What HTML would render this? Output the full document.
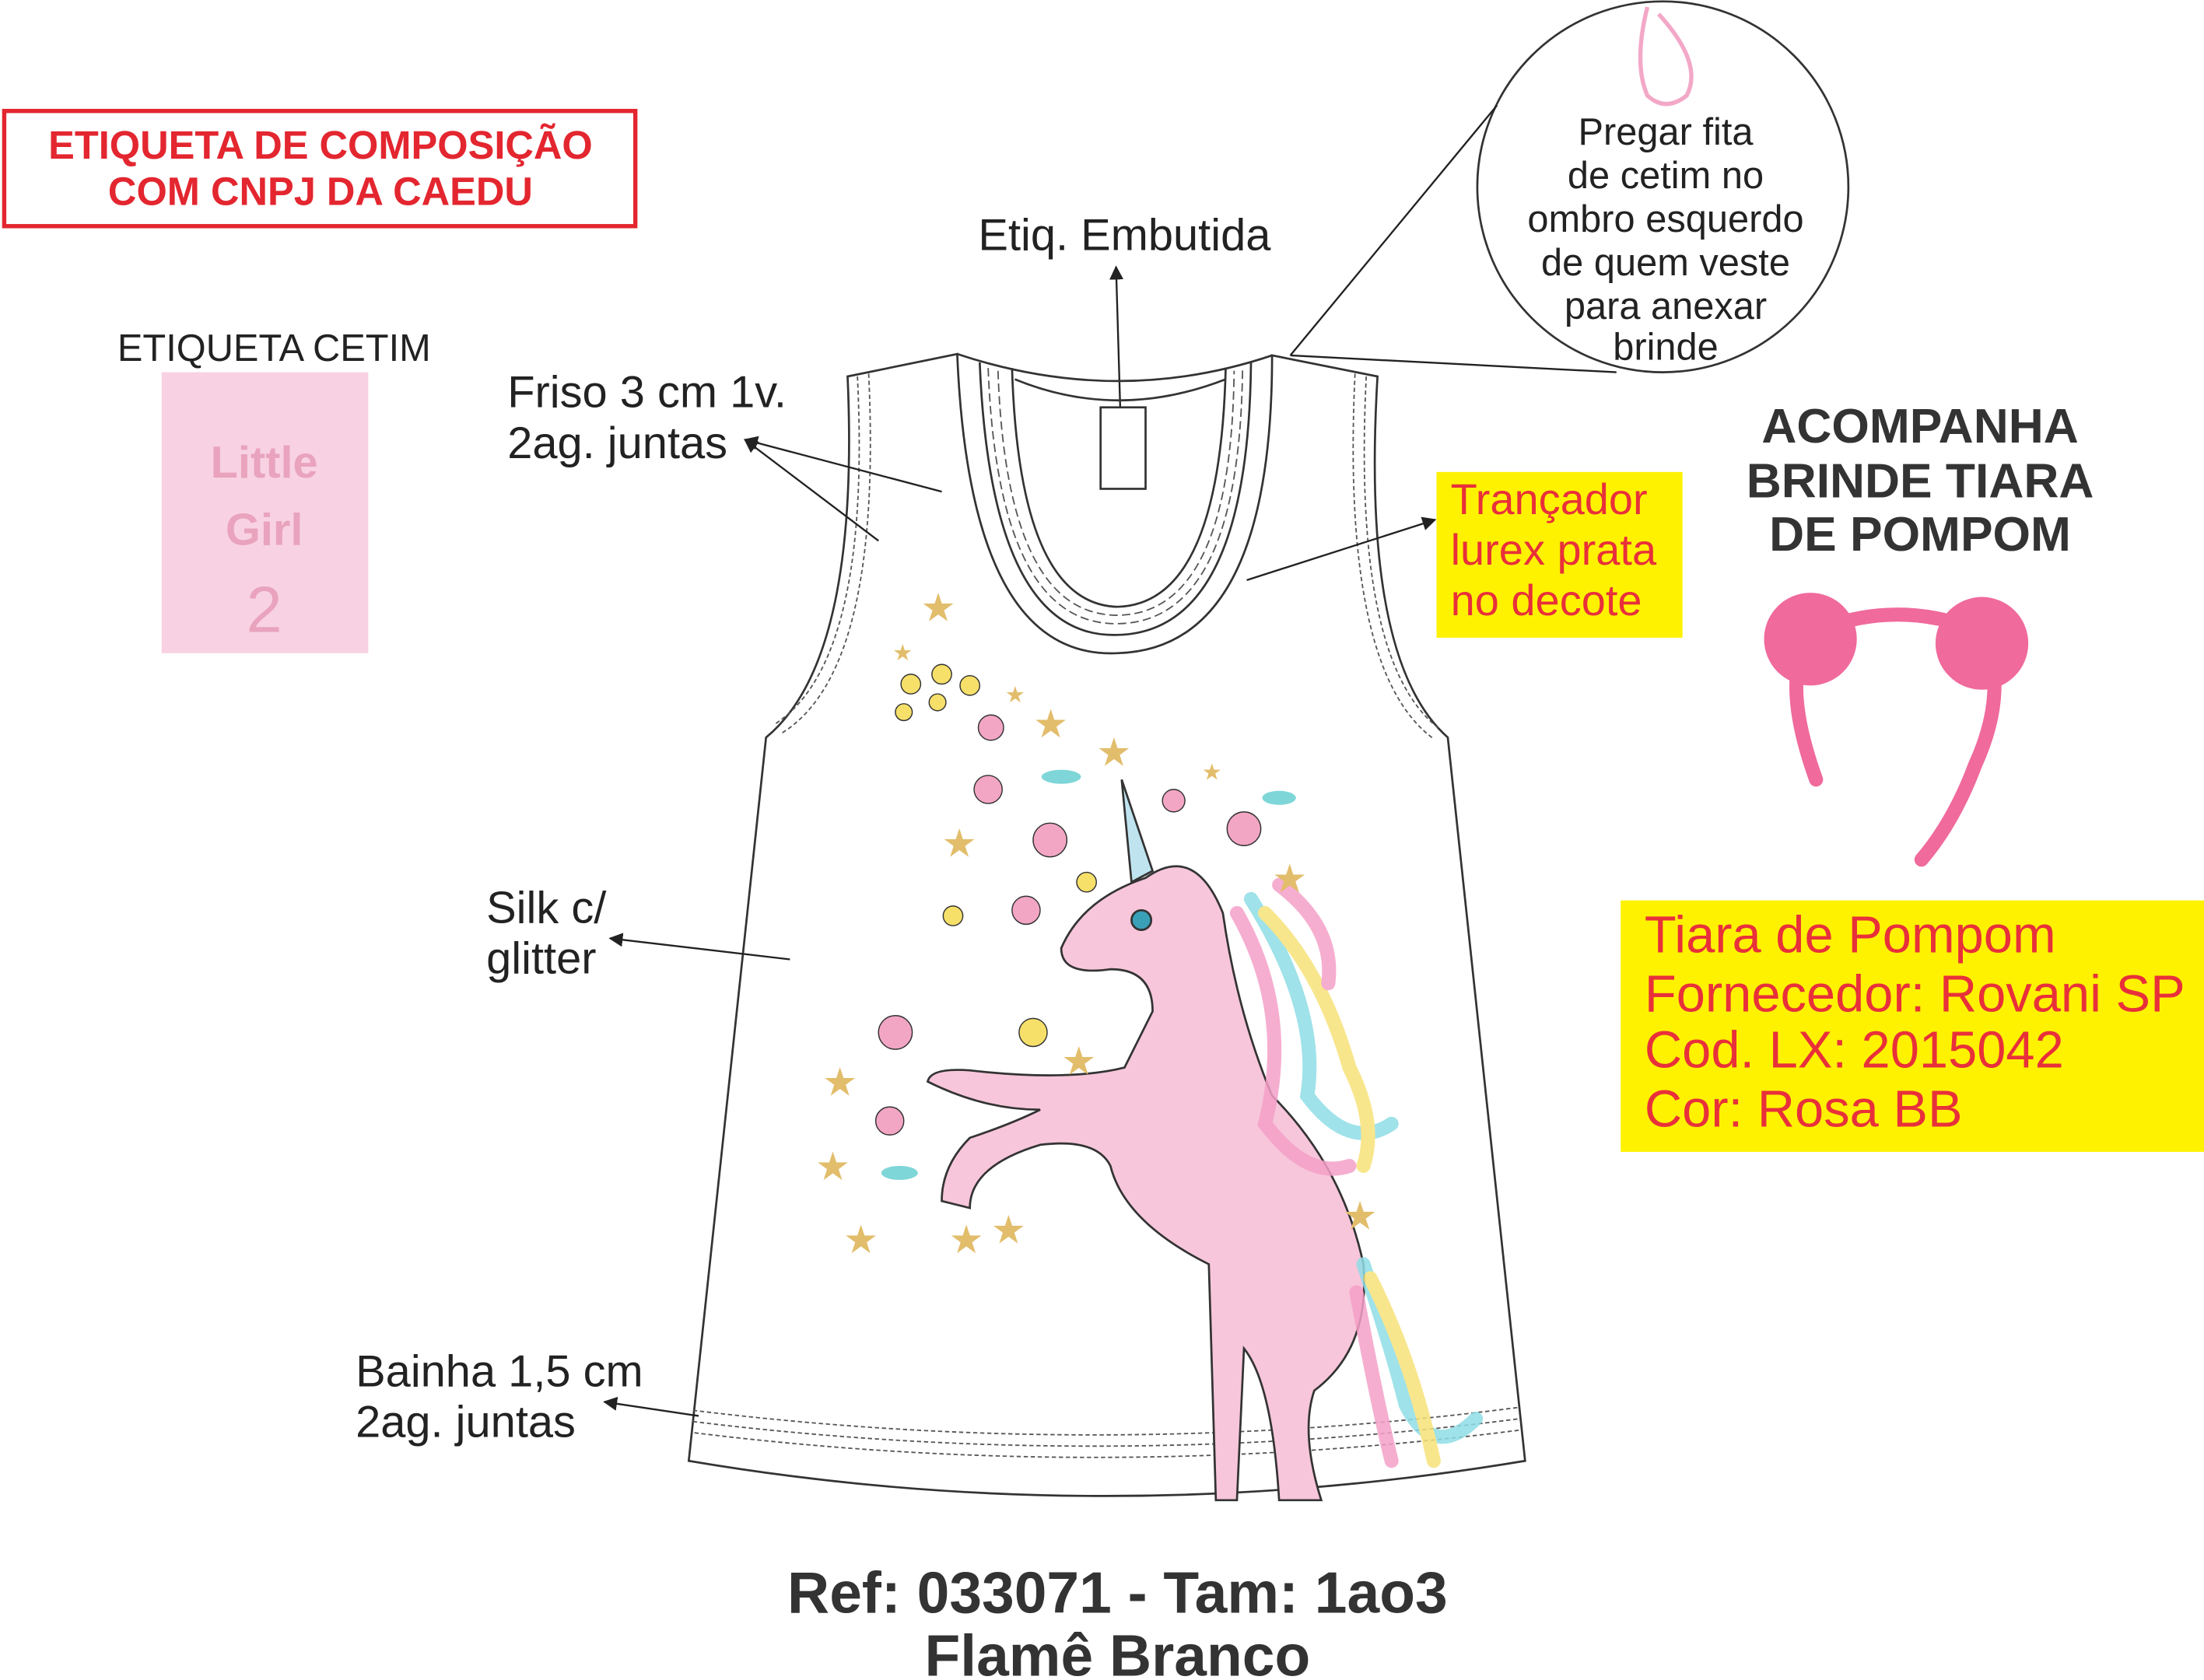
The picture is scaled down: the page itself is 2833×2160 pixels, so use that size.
<!DOCTYPE html>
<html><head><meta charset="utf-8"><style>
html,body{margin:0;padding:0;background:#fff;}
svg{display:block;}
text{font-family:"Liberation Sans",sans-serif;}
</style></head><body>
<svg width="2833" height="2160" viewBox="0 0 1568 1196" preserveAspectRatio="none" xmlns="http://www.w3.org/2000/svg">
<defs>
<marker id="ah" markerWidth="10" markerHeight="10" refX="9" refY="5" orient="auto" markerUnits="userSpaceOnUse"><path d="M0,0 L10,5 L0,10 z" fill="#222"/></marker>
</defs>
<rect width="1568" height="1196" fill="#fff"/>
<rect x="3" y="79" width="449" height="82" fill="none" stroke="#e3262f" stroke-width="3"/>
<text x="228" y="113" font-size="28" font-weight="bold" fill="#e3262f" text-anchor="middle">ETIQUETA DE COMPOSIÇÃO</text>
<text x="228" y="146" font-size="28" font-weight="bold" fill="#e3262f" text-anchor="middle">COM CNPJ DA CAEDU</text>
<text x="195" y="257" font-size="27" fill="#222" text-anchor="middle">ETIQUETA CETIM</text>
<rect x="115" y="265" width="147" height="200" fill="#f8d2e2"/>
<text x="188" y="340" font-size="32" fill="#e9a3bd" text-anchor="middle" font-weight="bold">Little</text>
<text x="188" y="388" font-size="32" fill="#e9a3bd" text-anchor="middle" font-weight="bold">Girl</text>
<text x="188" y="450" font-size="46" fill="#e9a3bd" text-anchor="middle">2</text>
<circle cx="1183" cy="133" r="132" fill="#fff" stroke="#333" stroke-width="1.5"/>
<path d="M1172,5 Q1162,45 1172,68 Q1185,80 1200,68 Q1212,45 1180,10" fill="none" stroke="#f3a8c8" stroke-width="3"/>
<g font-size="27" fill="#222" text-anchor="middle">
<text x="1185" y="103">Pregar fita</text>
<text x="1185" y="134">de cetim no</text>
<text x="1185" y="165">ombro esquerdo</text>
<text x="1185" y="196">de quem veste</text>
<text x="1185" y="227">para anexar</text>
<text x="1185" y="256">brinde</text>
</g>
<line x1="1065" y1="75" x2="918" y2="253" stroke="#222" stroke-width="1.3"/>
<line x1="918" y1="253" x2="1150" y2="265" stroke="#222" stroke-width="1.3"/>
<text x="800" y="178" font-size="32" fill="#222" text-anchor="middle">Etiq. Embutida</text>
<line x1="797" y1="292" x2="794" y2="190" stroke="#222" stroke-width="1.3" marker-end="url(#ah)"/>
<g fill="none" stroke="#333" stroke-width="1.5">
<path d="M603,268 L681,252 Q690,470 795,465 Q905,462 905,253 L980,268 Q968,470 1030,525 L1085,1040 Q785,1090 490,1040 L545,525 Q612,470 603,268 z" fill="#fff"/>
<path d="M697,258 Q705,455 795,452 Q888,450 890,258"/>
<path d="M720,262 Q725,430 795,432 Q868,430 872,262"/>
<path d="M722,270 Q795,300 872,270"/>
<path d="M681,252 Q795,290 905,253"/>
<rect x="783" y="290" width="32" height="58" fill="#fff"/>
</g>
<g fill="none" stroke="#555" stroke-width="1" stroke-dasharray="3,2">
<path d="M610,268 Q620,470 552,515"/>
<path d="M618,266 Q628,478 556,522"/>
<path d="M972,268 Q962,470 1023,518"/>
<path d="M964,266 Q954,478 1020,526"/>
<path d="M493,1004 Q785,1040 1080,1002"/>
<path d="M493,1012 Q785,1048 1081,1010"/>
<path d="M494,1020 Q785,1056 1082,1018"/>
<path d="M703,262 Q710,445 795,444 Q882,443 884,262" stroke-dasharray="6,3"/>
<path d="M710,264 Q716,438 795,438 Q876,437 878,264" stroke-dasharray="6,3"/>
</g>
<g stroke="#333" stroke-width="1.5">
<path d="M870,650 Q850,600 815,625 Q770,640 755,675 Q755,695 790,690 Q820,690 820,720 L800,760 Q760,770 690,762 Q662,760 660,770 Q700,790 740,790 Q720,800 690,810 Q670,830 670,855 L690,860 Q690,830 740,815 Q780,810 790,830 Q800,870 860,900 L865,1068 L880,1068 L885,960 Q905,985 910,1068 L940,1068 Q925,1020 935,990 Q975,960 970,900 Q955,830 905,780 Q880,720 870,650 z" fill="#f7c6da"/>
<path d="M805,628 L798,555 L820,620 z" fill="#bfe4f0"/>
<circle cx="812" cy="655" r="7" fill="#39a0b8"/>
</g>
<g fill="none" stroke-width="10" stroke-linecap="round" opacity="0.85">
<path d="M880,650 Q920,720 900,800 Q930,840 960,830" stroke="#f5a0c8"/>
<path d="M890,640 Q940,720 930,780 Q960,820 990,800" stroke="#8fdde6"/>
<path d="M900,650 Q940,690 960,760 Q980,800 970,830" stroke="#f7e27a"/>
<path d="M910,630 Q950,660 945,700" stroke="#f5a0c8"/>
<path d="M970,900 Q990,960 1000,1000 Q1020,1040 1050,1010" stroke="#8fdde6"/>
<path d="M975,910 Q1005,970 1020,1040" stroke="#f7e27a"/>
<path d="M965,920 Q980,1000 990,1040" stroke="#f5a0c8"/>
</g>
<g fill="#e2bd6b" font-size="28">
<text x="655" y="442">★</text><text x="670" y="610">★</text><text x="780" y="545">★</text><text x="735" y="525">★</text>
<text x="585" y="780">★</text><text x="580" y="840">★</text><text x="600" y="892">★</text><text x="675" y="892">★</text>
<text x="705" y="885">★</text><text x="755" y="765">★</text><text x="955" y="875">★</text><text x="905" y="635">★</text>
<text x="855" y="555" font-size="16">★</text><text x="715" y="500" font-size="16">★</text><text x="635" y="470" font-size="16">★</text>
</g>
<g fill="#f3a6c4" stroke="#333" stroke-width="0.8">
<circle cx="705" cy="518" r="9"/><circle cx="703" cy="562" r="10"/><circle cx="747" cy="598" r="12"/><circle cx="730" cy="648" r="10"/>
<circle cx="637" cy="735" r="12"/><circle cx="633" cy="798" r="10"/><circle cx="885" cy="590" r="12"/><circle cx="835" cy="570" r="8"/>
</g>
<g fill="#f6e06a" stroke="#333" stroke-width="0.8">
<circle cx="648" cy="487" r="7"/><circle cx="670" cy="480" r="7"/><circle cx="690" cy="488" r="7"/><circle cx="643" cy="507" r="6"/>
<circle cx="667" cy="500" r="6"/><circle cx="678" cy="652" r="7"/><circle cx="773" cy="628" r="7"/><circle cx="735" cy="735" r="10"/>
</g>
<g fill="#7fd6d8"><ellipse cx="755" cy="553" rx="14" ry="5"/><ellipse cx="910" cy="568" rx="12" ry="5"/><ellipse cx="640" cy="835" rx="13" ry="5"/></g>
<g font-size="32" fill="#222">
<text x="361" y="290">Friso 3 cm 1v.</text><text x="361" y="326">2ag. juntas</text>
<text x="346" y="657">Silk c/</text><text x="346" y="693">glitter</text>
<text x="253" y="987">Bainha 1,5 cm</text><text x="253" y="1023">2ag. juntas</text>
</g>
<g stroke="#222" stroke-width="1.3" marker-end="url(#ah)">
<line x1="625" y1="385" x2="530" y2="313"/>
<line x1="670" y1="350" x2="530" y2="313"/>
<line x1="562" y1="683" x2="434" y2="668"/>
<line x1="497" y1="1008" x2="430" y2="998"/>
<line x1="887" y1="413" x2="1021" y2="370"/>
</g>
<rect x="1022" y="336" width="175" height="118" fill="#fff200"/>
<g font-size="31" fill="#e8303a"><text x="1032" y="366">Trançador</text><text x="1032" y="402">lurex prata</text><text x="1032" y="438">no decote</text></g>
<g font-size="34.5" font-weight="bold" fill="#333" text-anchor="middle">
<text x="1366" y="315">ACOMPANHA</text><text x="1366" y="354">BRINDE TIARA</text><text x="1366" y="392">DE POMPOM</text>
</g>
<path d="M1292,555 Q1265,480 1290,450 Q1350,425 1410,450 Q1430,490 1405,545 Q1390,585 1367,612" fill="none" stroke="#f06a9c" stroke-width="10" stroke-linecap="round"/>
<circle cx="1288" cy="455" r="33" fill="#f06a9c"/>
<circle cx="1410" cy="458" r="33" fill="#f06a9c"/>
<rect x="1153" y="641" width="415" height="179" fill="#fff200"/>
<g font-size="37" fill="#e8303a"><text x="1170" y="678">Tiara de Pompom</text><text x="1170" y="720">Fornecedor: Rovani SP</text><text x="1170" y="760">Cod. LX: 2015042</text><text x="1170" y="802">Cor: Rosa BB</text></g>
<g font-size="41.5" font-weight="bold" fill="#333" text-anchor="middle">
<text x="795" y="1148">Ref: 033071 - Tam: 1ao3</text><text x="795" y="1193">Flamê Branco</text>
</g>
</svg>
</body></html>
